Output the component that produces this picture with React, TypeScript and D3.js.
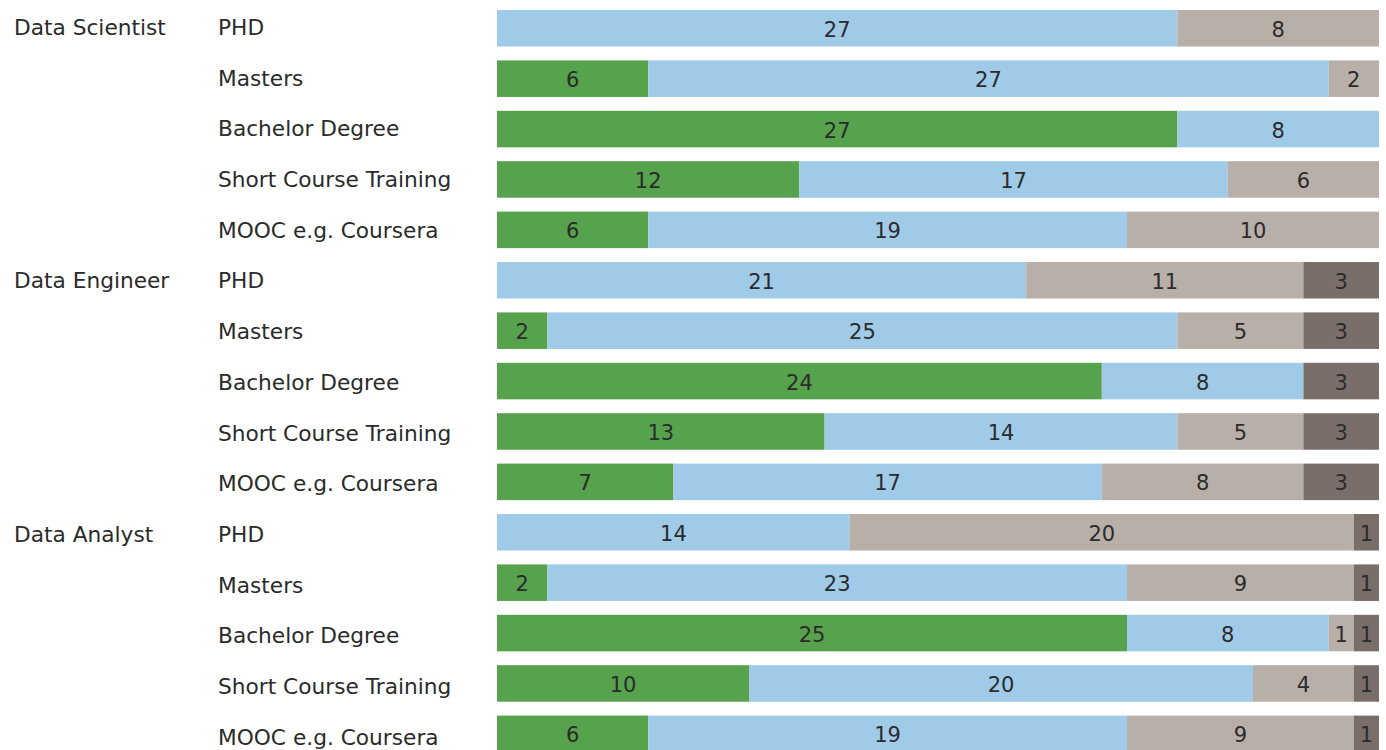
import React from "react";
import * as d3 from "d3";

const roles = ["Data Scientist", "Data Engineer", "Data Analyst"];
const levels = ["PHD", "Masters", "Bachelor Degree", "Short Course Training", "MOOC e.g. Coursera"];
const seriesKeys = ["s1", "s2", "s3", "s4"];
const colors = ["#57a24c", "#9fcae8", "#b9afa9", "#7a6e6b"];

// values per row: [green, blue, light taupe, dark taupe]
const scientist = [
  [0, 27, 8, 0],
  [6, 27, 2, 0],
  [27, 8, 0, 0],
  [12, 17, 6, 0],
  [6, 19, 10, 0],
];
const engineer = [
  [0, 21, 11, 3],
  [2, 25, 5, 3],
  [24, 8, 0, 3],
  [13, 14, 5, 3],
  [7, 17, 8, 3],
];
const analyst = [
  [0, 14, 20, 1],
  [2, 23, 9, 1],
  [25, 8, 1, 1],
  [10, 20, 4, 1],
  [6, 19, 9, 1],
];

const W = 1386;
const H = 750;
const FONT = "'DejaVu Sans', sans-serif";

export default function App() {
  const groups = [scientist, engineer, analyst];
  const rows: { role: string; level: string; showRole: boolean; vals: number[] }[] = [];
  groups.forEach((g, gi) =>
    g.forEach((vals, li) =>
      rows.push({ role: roles[gi], level: levels[li], showRole: li === 0, vals })
    )
  );
  const x = d3.scaleLinear().domain([0, 35]).range([497, 1379]);
  const y = d3
    .scaleBand<number>()
    .domain(d3.range(rows.length))
    .range([3.07, 3.07 + rows.length * 50.4])
    .paddingInner(0.275)
    .paddingOuter(0.1375);
  const yl = d3
    .scaleLinear()
    .domain([0, rows.length - 1])
    .range([27, 737]);

  const table = rows.map((r) => {
    const o: any = {};
    seriesKeys.forEach((k, i) => (o[k] = r.vals[i]));
    return o;
  });
  const stack = d3.stack<any>().keys(seriesKeys)(table);

  return (
    <svg
      width={W}
      height={H}
      style={{ position: "absolute", left: 0, top: 0, background: "#fff" }}
      fontFamily={FONT}
    >
      {stack.map((layer, si) =>
        layer.map((d, ri) => {
          const v = d[1] - d[0];
          if (v <= 0) return null;
          const x0 = x(d[0]);
          const x1 = x(d[1]);
          const yy = y(ri)!;
          const bw = y.bandwidth();
          return (
            <g key={`${si}-${ri}`}>
              <rect x={x0} y={yy} width={x1 - x0} height={bw} fill={colors[si]} />
              <text
                x={(x0 + x1) / 2}
                y={yy + bw / 2 + 1}
                dy="0.36em"
                textAnchor="middle"
                fontSize={21}
                fill="#2b2b2b"
              >
                {v}
              </text>
            </g>
          );
        })
      )}
      {rows.map((r, ri) => {
        const cy = yl(ri);
        return (
          <g key={ri}>
            {r.showRole && (
              <text x={14} y={cy} dy="0.36em" fontSize={21.7} fill="#2b2b2b">
                {r.role}
              </text>
            )}
            <text x={218} y={cy} dy="0.36em" fontSize={21.7} fill="#2b2b2b">
              {r.level}
            </text>
          </g>
        );
      })}
    </svg>
  );
}
